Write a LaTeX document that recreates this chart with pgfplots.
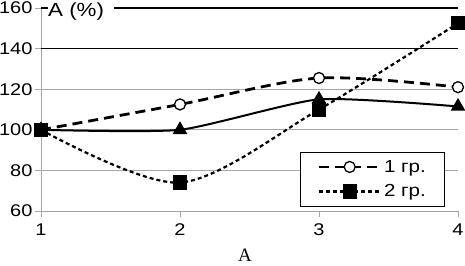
\documentclass[border=0pt]{standalone}
\usepackage{fontspec}
\setmainfont{Liberation Sans}[FakeStretch=1.18]
\newfontfamily\serifcap{Liberation Serif}
\usepackage{pgfplots}
\pgfplotsset{compat=1.18}
\begin{document}
\begin{tikzpicture}
\useasboundingbox (-41bp,-55bp) rectangle (424bp,211bp);
\begin{axis}[
  scale only axis, width=417bp, height=203bp,
  xmin=1, xmax=4, ymin=60, ymax=160,
  xtick={1,2,3,4}, ytick={60,80,100,120},
  extra y ticks={140,160},
  extra y tick style={grid=major, major grid style={black, line width=1.3bp}},
  axis x line*=bottom, axis y line*=left,
  axis line style={gray!70, line width=0.8bp},
  every tick/.style={gray!70, line width=0.8bp},
  tick align=outside, major tick length=6bp,
  ymajorgrids, major grid style={gray!70, line width=0.8bp},
  /pgf/number format/assume math mode=true,
  tick label style={font=\fontsize{17}{20}\selectfont},
  yticklabel style={xshift=1bp},
  xticklabel style={yshift=-3bp},
  legend style={at={(0.97,0.02)}, anchor=south east, draw=black, line width=1.2bp,
    font=\fontsize{17.5}{20}\selectfont, inner xsep=17bp, inner ysep=6bp, row sep=7bp},
  legend cell align=left,
  legend image code/.code={\draw[mark repeat=2,mark phase=2,#1] plot coordinates {(0bp,0bp)(31bp,0bp)(62bp,0bp)};},
  clip=false,
]
\addplot[black, line width=2bp, smooth, tension=0.35, mark=triangle*, mark size=6.5bp, mark options={solid, fill=black}, forget plot]
  coordinates {(1,100) (2,100) (3,115) (4,111.5)};
\addplot[black, line width=2.8bp, dash pattern=on 10bp off 6bp, smooth, mark=*, mark size=5.5bp, mark options={solid, fill=white, line width=1.3bp}]
  coordinates {(1,100) (2,112.5) (3,125.5) (4,121)};
\addlegendentry{1 гр.}
\addplot[black, line width=2.2bp, dash pattern=on 4bp off 3bp, smooth, mark=square*, mark size=6bp, mark options={solid, fill=black}]
  coordinates {(1,100) (2,74) (3,110) (4,152.5)};
\addlegendentry{2 гр.}
\node[anchor=west, fill=white, inner sep=0pt, font=\fontsize{19}{20}\selectfont, xshift=7bp, yshift=-4bp] at (rel axis cs:0,1) {A (\%)\kern10bp};
\node[anchor=north, inner sep=0pt, font=\serifcap\fontsize{19}{20}\selectfont] at (rel axis cs:0.489,0) [yshift=-38bp] {A};
\end{axis}
\end{tikzpicture}
\end{document}
